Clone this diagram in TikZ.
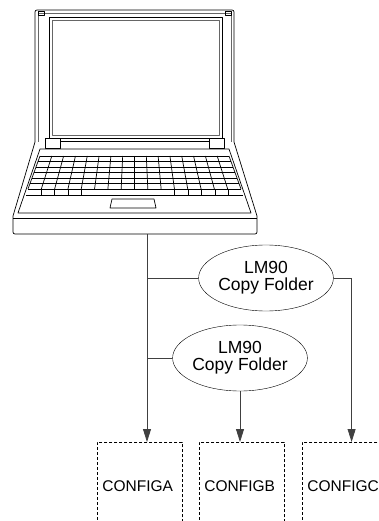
\documentclass[tikz,border=0pt]{standalone}
\usepackage{fontspec}
\setmainfont{Liberation Sans}
\usetikzlibrary{shapes.geometric,arrows.meta,positioning}
\tikzset{copybox/.style={draw,ellipse,minimum width=121pt,minimum height=66pt,inner sep=0pt,align=center,font=\fontsize{17.5}{17}\selectfont}}
\tikzset{cfgbox/.style={draw,dash pattern=on 3pt off 2pt,line width=0.7pt,inner ysep=0pt,inner xsep=5pt,text width=75pt,align=left,text height=49pt,text depth=51pt,font=\fontsize{15.5}{18}\selectfont}}
\tikzset{feed/.style={draw=black!75,line width=0.8pt}}
\tikzset{tip/.style={-{Triangle[length=13pt,width=8pt]}}}
\tikzset{pc/.style={line width=0.7pt,line join=round}}

\begin{document}
\begin{tikzpicture}[x=1pt,y=-1pt]
\useasboundingbox (0,0) rectangle (379,521);

% lid and screen
\draw[pc,rounded corners=2pt] (35,142) -- (35,10) -- (234,10) -- (234,142);
\draw[pc,black!60] (38,142) -- (38,13) -- (231,13) -- (231,142);
\draw[pc] (38,11) rectangle (44,15);
\draw[pc] (225,11) rectangle (231,15);
\draw[pc] (49,17) rectangle (222,138);
\draw[pc,black!60] (52,20) rectangle (219,135);

% hinges
\draw[pc] (45,138) rectangle (60,148);
\draw[pc] (209,138) rectangle (224,148);
\draw[pc] (60,141) -- (209,141);

% base
\draw[pc] (35,142) -- (13,216);
\draw[pc] (234,142) -- (257,216);
\draw[pc] (40,149) -- (18,213) -- (251,213) -- (229,149) -- cycle;
\draw[pc,rounded corners=2pt] (13,216) -- (13,234) -- (257,234) -- (257,216);
\draw[pc] (13,218) -- (257,218);

% keys
\foreach \i in {0,...,16}
         {
           \draw[pc] ({40+\i*189/16},156) -- ({28+\i*213/16},189);
         }
\foreach \j in {0,...,6}
         {
           \draw[pc] ({40-12*\j/6},{156+33*\j/6}) -- ({229+12*\j/6},{156+33*\j/6});
         }
\foreach \x in {41,54,68,81,174,188,201,215,228}
         {
           \draw[pc] (\x,189) -- (\x,195);
         }
\draw[line width=1.6pt] (26,195.5) -- (243,195.5);

% touchpad
\draw[pc] (112,199) -- (154,199) -- (156,208) -- (110,208) -- cycle;

\coordinate (pcout) at (147,234);

\node[copybox] (copy1) at (266,278) {LM90\\Copy Folder};
\node[copybox] (copy2) at (240,358) {LM90\\Copy Folder};

\node[cfgbox,anchor=north west] (cfga) at (97,442) {CONFIGA};
\node[cfgbox,anchor=north west] (cfgb) at (199,442) {CONFIGB};
\node[cfgbox,anchor=north west] (cfgc) at (302,442) {CONFIGC};

\draw[feed,tip] (pcout) -- (pcout |- cfga.north);
\draw[feed] (pcout |- copy1.west) -- (copy1.west);
\draw[feed,tip] (copy1.east) -- ++(18,0) coordinate (bend) -- (bend |- cfgc.north);
\draw[feed] (pcout |- copy2.west) -- (copy2.west);
\draw[feed,tip] (copy2.south) -- (copy2.south |- cfgb.north);
\end{tikzpicture}
\end{document}
